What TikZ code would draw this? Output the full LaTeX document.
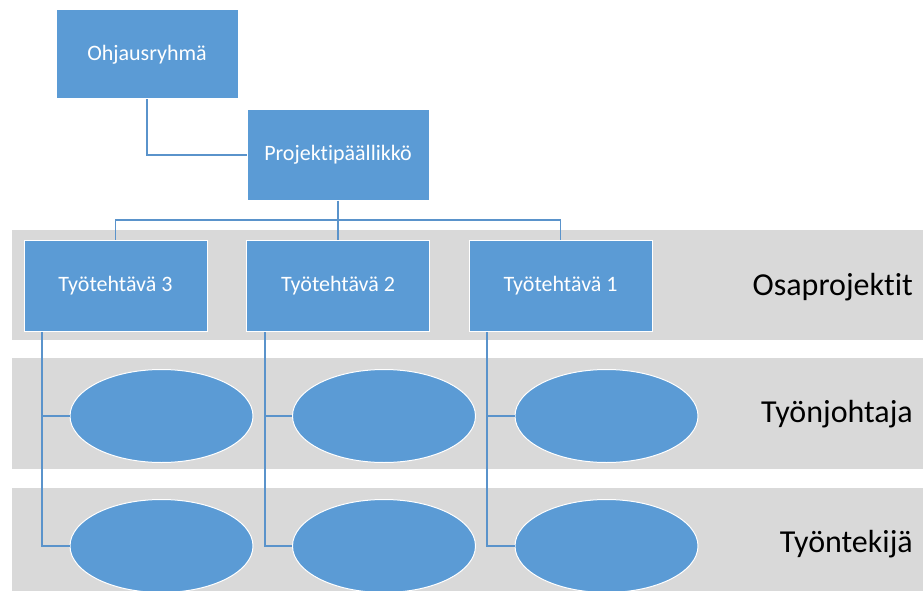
\documentclass[tikz,border=0pt]{standalone}
\usepackage{fontspec}
\setmainfont[Ligatures={NoCommon}]{Carlito}
\usetikzlibrary{shapes.geometric,calc}
\definecolor{boxblue}{HTML}{5B9BD5}
\definecolor{lineblue}{HTML}{5A93CB}
\definecolor{bandgray}{HTML}{D9D9D9}
\tikzset{
  band/.style={fill=bandgray, draw=none},
  orgbox/.style={rectangle, fill=boxblue, draw=white, line width=1pt,
    minimum width=183pt, minimum height=91pt, inner sep=0pt,
    text=white, font=\fontsize{22}{26}\selectfont},
  rolebox/.style={ellipse, fill=boxblue, draw=white, line width=1pt,
    minimum width=183pt, minimum height=93pt, inner sep=0pt},
  link/.style={draw=lineblue, line width=1.4pt},
  rowlabel/.style={anchor=east, inner sep=0pt, text=black,
    font=\fontsize{32}{38}\selectfont}
}
\begin{document}
\begin{tikzpicture}[x=1pt, y=-1pt]
  \useasboundingbox (0,0) rectangle (923,591);

  % level bands
  \fill[band] (12,230) rectangle (923,340);
  \fill[band] (12,358) rectangle (923,469);
  \fill[band] (12,488) rectangle (923,600);

  % connectors sit beneath the boxes
  \coordinate (bus) at (338,220);
  \coordinate (s3) at (42,332);
  \coordinate (s2) at (265,332);
  \coordinate (s1) at (487,332);

  % top of the hierarchy
  \node[orgbox, minimum width=182pt, minimum height=89pt] (ohj) at (147,54.5) {Ohjausryhmä};
  \node[orgbox, minimum width=182pt, minimum height=90pt] (pm) at (338,155) {Projektipäällikkö};

  % sub-projects
  \node[orgbox] (t3) at (115.5,286) {Työtehtävä 3};
  \node[orgbox] (t2) at (338,286) {Työtehtävä 2};
  \node[orgbox] (t1) at (560.5,286) {Työtehtävä 1};

  % foremen and workers
  \node[rolebox] (f3) at (161.5,416) {};
  \node[rolebox] (f2) at (384,416) {};
  \node[rolebox] (f1) at (606.5,416) {};
  \node[rolebox] (w3) at (161.5,546) {};
  \node[rolebox] (w2) at (384,546) {};
  \node[rolebox] (w1) at (606.5,546) {};

  % row labels
  \node[rowlabel] (lab1) at (913,287) {Osaprojektit};
  \node[rowlabel] (lab2) at (913,414) {Työnjohtaja};
  \node[rowlabel] (lab3) at (913,544) {Työntekijä};

  % connectors
  \draw[link] (ohj.south) |- (pm.west);
  \draw[link] (pm.south) -- (bus);
  \draw[link] (bus) -| (t3.north);
  \draw[link] (bus) -| (t1.north);
  \draw[link] (bus) -- (t2.north);
  \draw[link] (s3) |- (w3.west);
  \draw[link] (s3) |- (f3.west);
  \draw[link] (s2) |- (w2.west);
  \draw[link] (s2) |- (f2.west);
  \draw[link] (s1) |- (w1.west);
  \draw[link] (s1) |- (f1.west);
\end{tikzpicture}
\end{document}
